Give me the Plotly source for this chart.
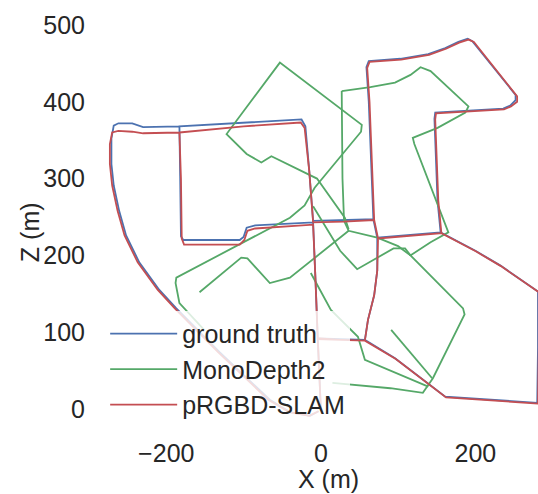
import plotly.graph_objects as go

# ---------------- data (metres) ----------------
gt_x = [0, -2, -4, 25, 57, 61, 69, 73, 73, 68, 65, 62, 59, 62,
        103, 139, 161, 178, 190, 196, 252, 252, 245, 236, 148, 147, 151, 155,
        73, 68, 30, -10, -15, -20, -25, -100, -183,
        -182, -181, -178, -150, -105, -100, -96, -85, -40, -10, -7, -4, 57,
        96, 161, 280, 281, 281, 232, 200, 155,
        73, 68, 30, -10, -15, -20, -25, -100, -183,
        -230, -244, -262, -268, -271, -271, -268, -261, -252, -235, -209, -187,
        -131, -66, -40, -14, -3]
gt_z = [0, 45, 92, 91, 90, 116, 148, 180, 223, 247, 320, 400, 445, 453,
        456, 462, 470, 478, 482, 479, 409, 402, 395, 391, 386, 378, 271, 230,
        223, 247, 246, 245, 310, 368, 377, 373, 368,
        300, 225, 220, 220, 220, 224, 236, 239, 241, 243, 170, 92, 90,
        66, 16, 8, 80, 153, 187, 206, 230,
        223, 247, 246, 245, 310, 368, 377, 373, 368,
        367, 372, 372, 369, 352, 319, 291, 258, 226, 191, 155, 131,
        74, 12, -4, -9, -3]

slam_x = [0, -2, -4, 25, 57, 61, 69, 73, 74, 69, 66, 63, 60, 63,
          104, 140, 162, 179, 191, 198, 254, 254, 246, 237, 149, 148, 152, 156,
          74, 69, 30, -10, -15, -21, -26, -100, -183,
          -181, -180, -177, -150, -105, -99, -95, -85, -40, -10, -7, -4, 57,
          97, 162, 281, 282, 282, 233, 201, 156,
          74, 69, 30, -10, -15, -21, -26, -100, -183,
          -230, -244, -262, -270, -273, -273, -270, -263, -254, -237, -211, -189,
          -133, -68, -41, -15, -3]
slam_z = [0, 45, 92, 90, 89, 116, 148, 180, 222, 246, 320, 400, 444, 452,
          455, 461, 469, 477, 481, 478, 407, 400, 394, 390, 385, 377, 271, 229,
          222, 246, 244, 243, 310, 366, 373, 368, 360,
          300, 222, 214, 214, 214, 220, 232, 235, 238, 240, 170, 91, 89,
          65, 15, 7, 80, 152, 186, 205, 229,
          222, 246, 244, 243, 310, 366, 373, 368, 360,
          359, 361, 362, 360, 345, 319, 291, 258, 226, 191, 155, 131,
          74, 12, -4, -9, -3]

mono_x = [-151, -183, -188, -187, -40, -21, -8, 52, 53, -53, -122, -96, -77, -64, -5, 31, 36, None,
          27, 64, 96, 116, 129, 142, 191, 187, 151, 119, 121, 165, 142, 116, 184, 186, 145, 132, 90, 44, 15, None,
          27, 28, 30, 36, 73, 100, 116, None,
          -10, 25, 47, 94, 109, 116, None,
          91, 144, None,
          -157, -103, -95, -66, -40, 21, 36, None,
          -13, 13, 48, 57, 139]
mono_z = [103, 138, 164, 171, 249, 265, 288, 361, 370, 451, 358, 332, 321, 329, 300, 249, 234, None,
          414, 419, 425, 435, 445, 440, 394, 386, 366, 353, 345, 230, 217, 200, 131, 123, 40, 21, 27, 31, 34, None,
          414, 300, 245, 232, 223, 212, 200, None,
          264, 206, 182, 209, 209, 200, None,
          103, 40, None,
          152, 197, 196, 164, 171, 219, 232, None,
          177, 129, 94, 64, 29]

x_ticks = [-200, 0, 200]
z_ticks = [0, 100, 200, 300, 400, 500]

BLUE, GREEN, RED = "#4C72B0", "#55A868", "#C44E52"
FONT = "Liberation Sans, Arial, sans-serif"
TXT = "#262626"
FS = 25

fig = go.Figure()
fig.add_trace(go.Scatter(x=gt_x, y=gt_z, mode="lines", name="ground truth",
                         line=dict(color=BLUE, width=1.8)))
fig.add_trace(go.Scatter(x=mono_x, y=mono_z, mode="lines", name="MonoDepth2",
                         line=dict(color=GREEN, width=1.8), connectgaps=False))
fig.add_trace(go.Scatter(x=slam_x, y=slam_z, mode="lines", name="pRGBD-SLAM",
                         line=dict(color=RED, width=1.8)))

fig.update_layout(
    width=538, height=494,
    margin=dict(l=89, r=0, t=15, b=58),
    paper_bgcolor="white", plot_bgcolor="white",
    font=dict(family=FONT, size=FS, color=TXT),
    showlegend=True,
    legend=dict(x=0.036, y=0.297, xanchor="left", yanchor="top",
                bgcolor="rgba(255,255,255,0.8)", borderwidth=0,
                font=dict(family=FONT, size=FS, color=TXT),
                itemwidth=67, tracegroupgap=0),
    annotations=[
        dict(text="X (m)", xref="paper", yref="paper", x=0.5345, y=-0.1378,
             xanchor="center", yanchor="bottom", showarrow=False, borderpad=0,
             font=dict(family=FONT, size=FS, color=TXT)),
        dict(text="Z (m)", xref="paper", yref="paper", x=-0.131, y=0.4846,
             xanchor="center", yanchor="middle", showarrow=False, textangle=-90,
             borderpad=0, font=dict(family=FONT, size=FS, color=TXT)),
    ],
)
fig.update_xaxes(range=[-300, 281], tickvals=x_ticks, showgrid=False, zeroline=False,
                 showline=False, ticks="", tickfont=dict(size=FS, color=TXT))
fig.update_yaxes(range=[-35.2, 513], tickvals=z_ticks, showgrid=False, zeroline=False,
                 showline=False, ticks="", tickfont=dict(size=FS, color=TXT),
                 ticklabelstandoff=3)

fig.write_html("out.html")
